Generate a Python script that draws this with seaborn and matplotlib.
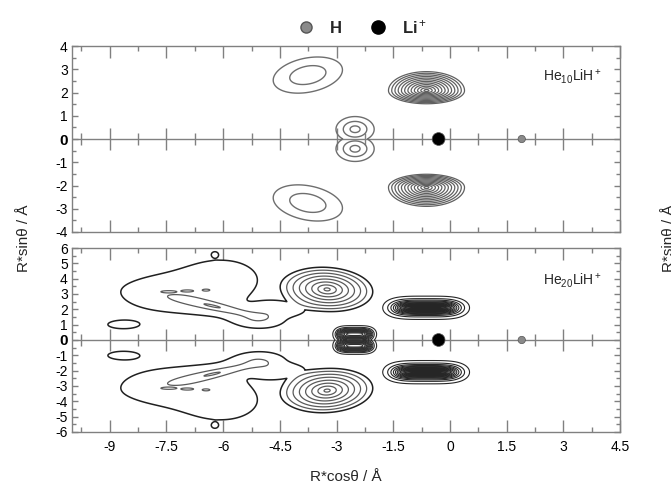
import numpy as np
import pandas as pd
import matplotlib
matplotlib.use("Agg")
import matplotlib.pyplot as plt
from matplotlib.lines import Line2D
import seaborn as sns

# ---- data (angstrom) ----
# atoms on the molecular axis
atom_names = ["H", "Li$^+$"]
atom_x = [1.9, -0.3]
atom_y = [0.0, 0.0]

# He10LiH+ : density features
he10_ring = [-3.76, 2.75, 0.63, 0.45, 30, 1.0]   # cx, cy, sx, sy, angle, amplitude
he10_ring_levels = [0.3, 0.72]
he10_cap = [-0.62, 2.08, 1.07, 0.87, 0.60]      # cx, cy, sx, sy_up, sy_down
he10_cap_levels = list(np.linspace(0.06, 0.94, 12))
he10_hlobe = [-2.51, 0.42, 0.25, 0.27]          # cx, y0, sx, sy
he10_hlobe_levels = [0.13, 0.46, 0.87]

# He20LiH+ : diffuse region left of H (cx, cy, sx, sy, angle, amplitude)
he20_diffuse = [
    [-7.60, 3.08, 1.00, 1.05, 0, 0.16],
    [-6.00, 3.95, 0.80, 1.10, 0, 0.18],
    [-6.15, 2.15, 0.68, 0.16, -29, 0.22],
    [-6.10, 1.90, 1.50, 0.45, -29, 0.09],
    [-5.10, 1.30, 0.45, 0.42, 0, 0.15],
    [-4.60, 2.10, 0.45, 0.45, 0, 0.13],
    [-4.20, 1.95, 0.40, 0.30, 0, 0.10],
    [-8.65, 1.00, 0.38, 0.25, 0, 0.16],
    [-6.22, 5.60, 0.07, 0.14, 0, 0.10],
    [-7.45, 3.15, 0.12, 0.04, 0, 0.12],
    [-6.95, 3.20, 0.10, 0.04, 0, 0.10],
    [-6.45, 3.25, 0.08, 0.05, 0, 0.06],
]
he20_cone = [-3.25, 3.30, 1.30, 1.60, 15, 1.15]  # cx, cy, Rx, Ry, angle, peak
he20_cone_levels = [0.10, 0.24, 0.38, 0.52, 0.66, 0.80, 0.94, 1.08]
he20_cap = [-0.63, 2.10, 0.64, 0.236]            # cx, cy, sx, sy
he20_cap_levels = list(np.linspace(0.04, 0.96, 24))
he20_hlobe = [-2.52, 0.38, 0.364, 0.25, 0.22]    # cx, y0, sx, sy_in, sy_out
he20_hlobe_levels = list(np.linspace(0.04, 0.94, 11))

x_major = np.arange(-9, 4.6, 1.5)
x_minor = np.arange(-9.75, 4.5, 1.5)

GRAY = "#808080"


def gauss(X, Y, cx, cy, sx, sy, ang, amp):
    t = np.deg2rad(ang)
    dx, dy = X - cx, Y - cy
    u = dx * np.cos(t) + dy * np.sin(t)
    v = -dx * np.sin(t) + dy * np.cos(t)
    return amp * np.exp(-0.5 * ((u / sx) ** 2 + (v / sy) ** 2))


sns.set_style("ticks")
plt.rcParams["font.family"] = ["Liberation Sans", "DejaVu Sans"]
plt.rcParams["mathtext.fontset"] = "custom"
plt.rcParams["mathtext.rm"] = "Liberation Sans"
plt.rcParams["mathtext.bf"] = "Liberation Sans:bold"
plt.rcParams["mathtext.it"] = "Liberation Sans:italic"

fig = plt.figure(figsize=(6.71, 4.88), dpi=100)
ax1 = fig.add_axes([0.1073, 0.5246, 0.8167, 0.3811])
ax2 = fig.add_axes([0.1073, 0.1148, 0.8167, 0.3770])

xs = np.linspace(-10, 4.5, 1300)

# ---------------- top panel: He10LiH+ ----------------
X, Y = np.meshgrid(xs, np.linspace(-4, 4, 700))
A = np.abs(Y)
f_ring = gauss(X, A, *he10_ring)
ax1.contour(X, Y, f_ring, levels=he10_ring_levels, colors="#6e6e6e", linewidths=1.0)

cx, cy, sx, syu, syd = he10_cap
sy = np.where(A > cy, syu, syd)
f_cap = 1 - np.sqrt(((X - cx) / sx) ** 2 + ((A - cy) / sy) ** 2)
ax1.contour(X, Y, f_cap, levels=he10_cap_levels, colors="#606060", linewidths=0.9)

cx, y0, sx, sy = he10_hlobe
f_h = np.exp(-0.5 * (((X - cx) / sx) ** 2 + ((A - y0) / sy) ** 2))
ax1.contour(X, Y, f_h, levels=he10_hlobe_levels, colors="#6e6e6e", linewidths=1.0)

ax1.text(0.967, 0.835, "He$_{10}$LiH$^+$", transform=ax1.transAxes,
         ha="right", va="center", fontsize=10)

# ---------------- bottom panel: He20LiH+ ----------------
X, Y = np.meshgrid(xs, np.linspace(-6, 6, 1000))
A = np.abs(Y)
f_d = np.zeros_like(X)
for g in he20_diffuse:
    f_d += gauss(X, A, *g)
cx, cy, rx, ry, ang, pk = he20_cone
t = np.deg2rad(ang)
u = (X - cx) * np.cos(t) + (A - cy) * np.sin(t)
v = -(X - cx) * np.sin(t) + (A - cy) * np.cos(t)
f_d += pk * np.clip(1 - np.sqrt((u / rx) ** 2 + (v / ry) ** 2), 0, None)
ax2.contour(X, Y, f_d, levels=he20_cone_levels,
            colors=["#202020"] + ["#5a5a5a"] * (len(he20_cone_levels) - 1),
            linewidths=[1.1] + [0.9] * (len(he20_cone_levels) - 1))

cx, cy, sx, sy = he20_cap
f_c = np.exp(-np.sqrt(((A - cy) / sy) ** 2 + np.abs((X - cx) / sx) ** 4))
ax2.contour(X, Y, f_c, levels=he20_cap_levels, colors="#262626", linewidths=0.8)

cx, y0, sx, syi, syo = he20_hlobe
sy = np.where(A > y0, syo, syi)
f_hh = np.exp(-0.5 * (np.abs((X - cx) / sx) ** 4 + ((A - y0) / sy) ** 2))
ax2.contour(X, Y, f_hh, levels=he20_hlobe_levels, colors="#2e2e2e", linewidths=0.8)

ax2.text(0.967, 0.824, "He$_{20}$LiH$^+$", transform=ax2.transAxes,
         ha="right", va="center", fontsize=10)

# ---------------- common decorations ----------------
atoms = pd.DataFrame({"atom": atom_names, "x": atom_x, "y": atom_y})
for ax, ylim in ((ax1, 4), (ax2, 6)):
    ax.axhline(0, color=GRAY, lw=1.0, zorder=1)
    ax.plot(x_major[x_major < 4.5], np.zeros(np.sum(x_major < 4.5)), ls="",
            marker="|", ms=15.6, mew=1.0, color=GRAY, zorder=1)
    ax.plot(x_minor, np.zeros(len(x_minor)), ls="", marker="|", ms=8.4,
            mew=1.0, color=GRAY, zorder=1)
    sns.scatterplot(data=atoms, x="x", y="y", hue="atom",
                    palette={"H": "#8a8a8a", "Li$^+$": "#000000"},
                    size="atom", sizes={"H": 28, "Li$^+$": 85},
                    edgecolor="#555555", linewidth=0.5, legend=False,
                    ax=ax, zorder=5)
    ax.set_xlim(-10, 4.5)
    ax.set_ylim(-ylim, ylim)
    ax.set_xticks(x_major)
    ax.set_xticks(x_minor, minor=True)
    ax.set_yticks(np.arange(-ylim, ylim + 1, 1))
    ax.set_yticks(np.arange(-ylim + 0.5, ylim, 1), minor=True)
    ax.set_xlabel("")
    ax.set_ylabel("")
    ax.tick_params(which="both", direction="in", top=True, right=True,
                   color=GRAY, labelcolor="black", labelsize=10, width=1.0)
    ax.tick_params(axis="x", which="major", length=8.4, pad=6)
    ax.tick_params(axis="x", which="minor", length=3.6)
    ax.tick_params(axis="y", which="major", length=4, pad=3)
    ax.tick_params(axis="y", which="minor", length=3)
    ax.set_yticklabels([str(int(v)) for v in np.arange(-ylim, ylim + 1, 1)])
    for lab in ax.get_yticklabels():
        if lab.get_text() == "0":
            lab.set_fontweight("bold")
            lab.set_fontsize(11)
    for sp in ax.spines.values():
        sp.set_color(GRAY)
        sp.set_linewidth(1.0)

ax1.tick_params(axis="x", labelbottom=False)
ax2.set_xticklabels(["-9", "-7.5", "-6", "-4.5", "-3", "-1.5", "0", "1.5", "3", "4.5"])

# legend at the top
handles = [
    Line2D([], [], ls="", marker="o", ms=8, color="#8a8a8a", mec="#555555"),
    Line2D([], [], ls="", marker="o", ms=9.5, color="#000000"),
]
fig.legend(handles, atom_names, loc="center", bbox_to_anchor=(0.54, 0.945),
           ncol=2, frameon=False, prop={"weight": "bold", "size": 12},
           handletextpad=0.9, columnspacing=1.7, handlelength=1.0)

fig.text(0.036, 0.512, "R*sinθ / Å", rotation=90, ha="center", va="center", fontsize=11)
fig.text(0.986, 0.512, "R*sinθ / Å", rotation=90, ha="left", va="center", fontsize=11)
fig.text(0.5157, 0.022, "R*cosθ / Å", ha="center", va="center", fontsize=11)

fig.savefig("out.png", dpi=100)
